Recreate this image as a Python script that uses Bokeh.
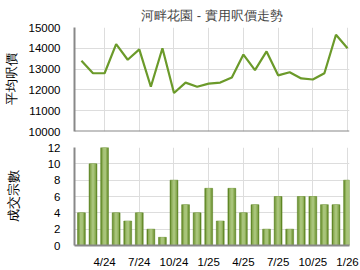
from bokeh.plotting import figure
from bokeh.layouts import column
from bokeh.models import Range1d, FixedTicker, ColumnDataSource, Span
from bokeh.embed import file_html
from bokeh.resources import INLINE

months = ["2/24","3/24","4/24","5/24","6/24","7/24","8/24","9/24","10/24","11/24","12/24",
          "1/25","2/25","3/25","4/25","5/25","6/25","7/25","8/25","9/25","10/25","11/25","12/25","1/26"]
price = [13400, 12800, 12800, 14200, 13450, 13950, 12150, 14000, 11850, 12350, 12150, 12300,
         12350, 12600, 13700, 12950, 13850, 12700, 12850, 12550, 12500, 12800, 14650, 14000]
deals = [4, 10, 12, 4, 3, 4, 2, 1, 8, 5, 4, 7, 3, 7, 4, 5, 2, 6, 2, 6, 6, 5, 5, 8]
tick_labels = ["4/24", "7/24", "10/24", "1/25", "4/25", "7/25", "10/25", "1/26"]
title_text = "河畔花園 - 實用呎價走勢"
ylabel_top = "平均呎價"
ylabel_bottom = "成交宗數"

idx = list(range(len(months)))
tick_pos = [months.index(t) for t in tick_labels]
FONT = "Liberation Sans"
xr = Range1d(-0.6, 23.17)

def style(p):
    p.outline_line_color = None
    p.background_fill_color = "white"
    p.border_fill_color = "white"
    p.xgrid.grid_line_color = "#dddddd"
    p.ygrid.grid_line_color = "#dddddd"
    for ax in (p.xaxis[0], p.yaxis[0]):
        ax.axis_line_color = "#888888"
        ax.axis_line_width = 2
        ax.major_tick_line_color = None
        ax.minor_tick_line_color = None
        ax.major_label_text_font = FONT
        ax.major_label_text_font_size = "11.5px"
        ax.major_label_text_color = "#000000"
        ax.axis_label_text_font = FONT
        ax.axis_label_text_font_size = "13px"
        ax.axis_label_text_font_style = "normal"
        ax.axis_label_text_color = "#000000"
    p.yaxis[0].major_label_standoff = 8
    p.xaxis[0].major_label_standoff = 4

top = figure(width=360, height=141, output_backend="svg", toolbar_location=None,
             x_range=xr, y_range=Range1d(10000, 15000),
             min_border_left=67, min_border_right=11, min_border_top=26, min_border_bottom=10)
top.title.text = title_text
top.title.align = "center"
top.title.text_font = FONT
top.title.text_font_size = "13px"
top.title.text_font_style = "normal"
top.title.offset = 0
style(top)
top.xaxis.visible = False
top.xgrid.ticker = FixedTicker(ticks=tick_pos)
top.yaxis.ticker = FixedTicker(ticks=[10000, 11000, 12000, 13000, 14000, 15000])
top.yaxis.axis_label = ylabel_top
top.yaxis.axis_label_standoff = 7
top.add_layout(Span(location=10000, dimension="width", line_color="#888888", line_width=2))
top.line(idx, price, line_color="#6b9a2a", line_width=2.2)

bot = figure(width=360, height=129, output_backend="svg", toolbar_location=None,
             x_range=xr, y_range=Range1d(0, 12),
             min_border_left=67, min_border_right=11, min_border_top=6, min_border_bottom=25)
style(bot)
bot.yaxis.ticker = FixedTicker(ticks=[0, 2, 4, 6, 8, 10, 12])
bot.xaxis.ticker = FixedTicker(ticks=tick_pos)
bot.xaxis.major_label_overrides = {months.index(t): t for t in tick_labels}
bot.yaxis.axis_label = ylabel_bottom
bot.yaxis.axis_label_standoff = 24
src = ColumnDataSource(dict(x=idx, top=deals))
bot.vbar(x="x", top="top", width=0.68, bottom=0, source=src,
         fill_color="#5e8624", line_color="#5e8624", line_width=0.5)
bot.vbar(x="x", top="top", width=0.5, bottom=0, source=src,
         fill_color="#8eae58", line_color=None)
bot.vbar(x="x", top="top", width=0.25, bottom=0, source=src,
         fill_color="#a8c47a", line_color=None)

layout = column(top, bot, spacing=0)
html = file_html(layout, INLINE)
open("out.html", "w").write(html)
